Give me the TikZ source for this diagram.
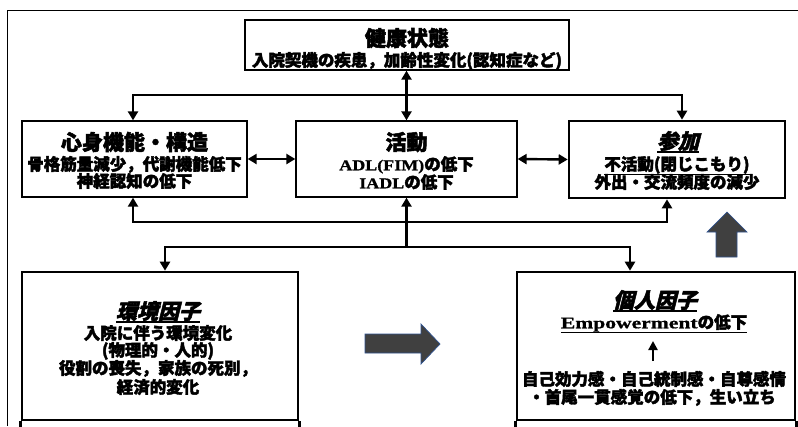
\documentclass[tikz,border=0pt]{standalone}
\usepackage{fontspec}
\setmainfont{Noto Sans CJK JP}[BoldFeatures={FakeBold=2.4}]
\newfontfamily\jpit{Noto Sans CJK JP}[FakeSlant=0.25,BoldFeatures={FakeBold=2.4}]
\newfontfamily\lsa{Liberation Serif}[FakeStretch=1.2,BoldFeatures={FakeBold=1}]
\newfontfamily\lsb{Liberation Serif}[FakeStretch=1.35,BoldFeatures={FakeBold=1}]
\usetikzlibrary{arrows.meta}
\newcommand\myul[1]{\vtop{\hbox{#1}\kern0.3pt\hrule height 1.3pt}}
\begin{document}
\begin{tikzpicture}[x=1pt,y=-1pt,
  >={Triangle[width=10pt,length=9pt]},
  box/.style={draw, line width=1.3pt, inner sep=0pt},
  thickbox/.style={draw, line width=2.6pt, inner sep=0pt},
  ttl/.style={inner sep=0pt, font=\fontsize{21}{24}\selectfont\bfseries, text height=18.5pt, text depth=2.5pt},
  body/.style={inner sep=0pt, font=\fontsize{16.5}{18}\selectfont\bfseries, text height=14.5pt, text depth=2pt},
  conn/.style={line width=2.8pt},
  conn2/.style={line width=2.4pt},
  frame/.style={line width=1pt},
  bigarr/.style={fill={rgb,255:red,64;green,64;blue,64}, draw={rgb,255:red,47;green,82;blue,143}, line width=0.7pt}]
\useasboundingbox (0,0) rectangle (798,426);
\fill[white] (0,0) rectangle (798,426);
% outer frame
\coordinate (f1) at (7,426);
\coordinate (f2) at (7,10);
\coordinate (f3) at (798,10);
\draw[frame] (f1) -- (f2) -- (f3);
% boxes
\node[box, minimum width=324pt, minimum height=50pt] (hs) at (407,45) {};
\node[box, minimum width=225pt, minimum height=76pt] (shin) at (134.5,159) {};
\node[box, minimum width=221pt, minimum height=76pt] (kat) at (406.5,159) {};
\node[thickbox, minimum width=216pt, minimum height=77pt] (san) at (677,159.5) {};
\node[thickbox, minimum width=276pt, minimum height=148pt] (kan) at (160,346) {};
\node[thickbox, minimum width=278pt, minimum height=148pt] (koj) at (656,346) {};
\draw[line width=2.6pt] (kan.south west) -- ++(0,7);
\draw[line width=2.6pt] (kan.south east) -- ++(0,7);
\draw[line width=2.6pt] (koj.south west) -- ++(0,7);
\draw[line width=2.6pt] (koj.south east) -- ++(0,7);
% texts
\node[ttl] (hsT) at (407,38) {健康状態};
\node[body] (hs1) at (407,60) {入院契機の疾患，加齢性変化(認知症など)};
\node[ttl] (shinT) at (134.5,142) {心身機能・構造};
\node[body] (shin1) at (134.5,164) {骨格筋量減少，代謝機能低下};
\node[body] (shin2) at (134.5,181) {神経認知の低下};
\node[ttl] (katT) at (406.5,142) {活動};
\node[body] (kat1) at (406.5,164) {{\lsa\fontsize{15}{18}\selectfont ADL(FIM)}の低下};
\node[body] (kat2) at (406.5,182) {{\lsa\fontsize{15}{18}\selectfont IADL}の低下};
\node[ttl] (sanT) at (678,141) {\myul{\jpit 参加}};
\node[body] (san1) at (677,164) {\myul{不活動(閉じこもり)}};
\node[body] (san2) at (677,182) {外出・交流頻度の減少};
\node[ttl] (kanT) at (158,311) {\myul{\jpit 環境因子}};
\node[body] (kan1) at (158,333) {入院に伴う環境変化};
\node[body] (kan2) at (158,350) {(物理的・人的)};
\node[body] (kan3) at (158,368) {役割の喪失，家族の死別，};
\node[body] (kan4) at (158,387) {経済的変化};
\node[ttl] (kojT) at (655,300) {\myul{\jpit 個人因子}};
\node[body] (koj1) at (654,322) {\myul{{\lsb\fontsize{16}{18}\selectfont Empowerment}の低下}};
\node[body] (koj2) at (654,379) {自己効力感・自己統制感・自尊感情};
\node[body] (koj3) at (652,397) {・首尾一貫感覚の低下，生い立ち};
\coordinate (sa1) at (653,361);
\coordinate (sa2) at (653,341);
\draw[line width=2.6pt, -{Triangle[width=9pt,length=9pt]}] (sa1) -- (sa2);
% connectors
\coordinate (tl) at (133,95);
\coordinate (tr) at (682,95);
\draw[conn, <->] (tl |- shin.north) -- (tl) -- (tr) -- (tr |- san.north);
\draw[conn2, <->] (kat.north |- hs.south) -- (kat.north);
\draw[conn2, <->] (shin.east) -- (kat.west);
\draw[conn2, <->] (kat.east) -- (san.west);
\coordinate (bl) at (133,222);
\coordinate (br) at (667,222);
\draw[conn, <->] (bl |- shin.south) -- (bl) -- (br) -- (br |- san.south);
\coordinate (cm) at (406.5,247);
\draw[conn, ->] (cm) -- (kat.south);
\coordinate (ll) at (165,247);
\coordinate (lr) at (630,247);
\draw[conn, <->] (ll |- kan.north) -- (ll) -- (lr) -- (lr |- koj.north);
% block arrows
\filldraw[bigarr] (365,334) -- (421,334) -- (421,324) -- (440,344) -- (421,364) -- (421,353) -- (365,353) -- cycle;
\filldraw[bigarr] (716,257) -- (716,232) -- (707,232) -- (727,212) -- (747,232) -- (737,232) -- (737,257) -- cycle;
\end{tikzpicture}
\end{document}
